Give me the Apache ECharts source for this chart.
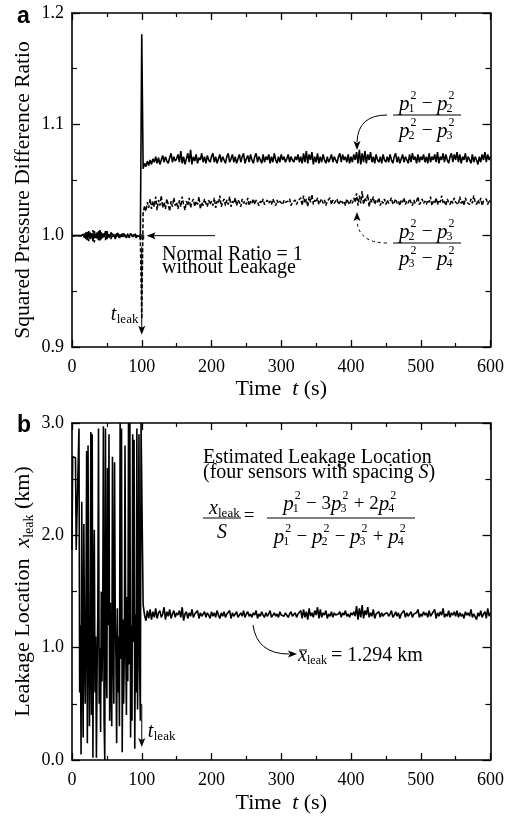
<!DOCTYPE html>
<html><head><meta charset="utf-8">
<script src="https://cdn.jsdelivr.net/npm/echarts@6/dist/echarts.min.js"></script>
<style>html,body{margin:0;padding:0;background:#fff}#c{width:507px;height:818px}</style>
</head><body><div id="c"></div>
<script>
// ---------------- data ----------------
const timeTicks = [0, 100, 200, 300, 400, 500, 600];
const ratioTicks = [0.9, 1.0, 1.1, 1.2];
const locationTicks = [0.0, 1.0, 2.0, 3.0];

// (p1^2-p2^2)/(p2^2-p3^2): t = 0..98 every 2 s, t = 100, t = 102..600 every 2 s
const ratio12Pre = [1.000,1.000,1.000,1.000,1.000,1.000,1.000,1.000,
 1.001,0.998,1.003,0.996,1.004,0.997,1.002,0.995,1.004,0.998,
 1.003,0.996,1.005,0.997,1.002,0.999,1.004,0.997,1.001,0.998,
 1.003,0.999,1.001,0.997,1.002,1.000,0.998,1.001,0.999,1.002,
 1.000,0.998,1.001,0.999,1.002,1.000,0.999,1.001,0.998,1.000,
 1.001,0.999];
const ratio12Leak = 1.181;
const ratio12Post = [
 1.060,1.065,1.062,1.067,1.063,1.068,1.064,1.069,1.066,1.071,1.065,1.070,1.064,1.068,1.072,1.066,1.071,1.067,1.065,1.070,1.074,1.066,1.071,1.067,1.069,
 1.073,1.066,1.076,1.065,1.071,1.064,1.069,1.074,1.066,1.077,1.064,1.071,1.067,1.073,1.065,1.070,1.068,1.074,1.066,1.071,1.065,1.072,1.068,1.066,1.071,
 1.074,1.066,1.071,1.065,1.069,1.073,1.066,1.071,1.068,1.065,1.071,1.074,1.066,1.069,1.073,1.066,1.071,1.065,1.069,1.073,1.066,1.071,1.074,1.065,1.069,
 1.072,1.066,1.073,1.068,1.065,1.071,1.074,1.066,1.071,1.068,1.065,1.073,1.066,1.071,1.068,1.073,1.065,1.071,1.066,1.074,1.068,1.065,1.071,1.066,1.073,
 1.068,1.071,1.066,1.069,1.073,1.066,1.071,1.068,1.066,1.071,1.068,1.073,1.066,1.071,1.065,1.074,1.066,1.076,1.065,1.073,1.068,1.075,1.064,1.071,1.066,
 1.074,1.065,1.071,1.066,1.073,1.068,1.065,1.071,1.066,1.069,1.073,1.066,1.071,1.068,1.065,1.071,1.074,1.066,1.073,1.068,1.071,1.066,1.073,1.065,1.071,
 1.066,1.073,1.068,1.075,1.065,1.077,1.064,1.074,1.066,1.076,1.065,1.073,1.068,1.075,1.066,1.071,1.065,1.073,1.068,1.066,1.071,1.065,1.073,1.068,1.066,
 1.071,1.066,1.073,1.068,1.065,1.071,1.074,1.066,1.071,1.065,1.069,1.073,1.066,1.071,1.068,1.065,1.073,1.066,1.074,1.068,1.071,1.065,1.073,1.066,1.071,
 1.068,1.073,1.066,1.071,1.065,1.074,1.066,1.071,1.068,1.073,1.066,1.075,1.065,1.071,1.068,1.074,1.066,1.073,1.068,1.065,1.071,1.074,1.066,1.073,1.068,
 1.075,1.066,1.073,1.065,1.071,1.068,1.074,1.066,1.071,1.068,1.065,1.073,1.066,1.071,1.068,1.064,1.071,1.066,1.073,1.068,1.075,1.066,1.073,1.068,1.071];

// (p2^2-p3^2)/(p3^2-p4^2)
const ratio23Pre = [1.000,1.000,1.000,1.000,1.000,1.000,1.000,1.000,
 0.999,1.002,0.997,1.004,0.995,1.003,0.998,1.005,0.994,1.002,
 0.997,1.004,0.995,1.003,0.998,1.002,0.996,1.005,0.999,1.001,
 0.997,1.002,0.999,1.001,0.998,1.003,1.000,0.998,1.002,0.999,
 1.001,0.999,1.002,0.998,1.000,1.001,0.999,1.002,1.000,0.999,
 1.000,0.998];
const ratio23Leak = 0.925;
const ratio23Post = [
 1.020,1.027,1.022,1.030,1.025,1.033,1.024,1.031,1.026,1.035,1.023,1.032,1.027,1.036,1.025,1.030,1.024,1.033,1.028,1.022,1.031,1.026,1.034,1.027,1.030,
 1.024,1.032,1.026,1.035,1.028,1.023,1.031,1.027,1.034,1.025,1.030,1.033,1.026,1.031,1.028,1.035,1.024,1.030,1.027,1.033,1.029,1.026,1.032,1.028,1.031,
 1.027,1.034,1.025,1.031,1.029,1.036,1.026,1.030,1.033,1.027,1.032,1.028,1.035,1.026,1.031,1.029,1.034,1.027,1.032,1.030,1.026,1.033,1.029,1.031,1.028,
 1.034,1.027,1.031,1.029,1.033,1.028,1.032,1.030,1.027,1.031,1.029,1.033,1.028,1.030,1.032,1.029,1.031,1.028,1.033,1.030,1.027,1.032,1.029,1.031,1.030,
 1.028,1.032,1.030,1.029,1.031,1.033,1.027,1.030,1.029,1.032,1.028,1.031,1.030,1.034,1.027,1.036,1.029,1.033,1.026,1.035,1.030,1.037,1.028,1.032,1.030,
 1.034,1.028,1.031,1.033,1.029,1.032,1.027,1.031,1.030,1.034,1.028,1.032,1.029,1.031,1.033,1.028,1.030,1.032,1.029,1.031,1.027,1.033,1.030,1.028,1.032,
 1.029,1.034,1.030,1.038,1.027,1.036,1.029,1.040,1.028,1.034,1.031,1.037,1.026,1.033,1.030,1.035,1.028,1.032,1.030,1.034,1.027,1.031,1.029,1.033,1.028,
 1.032,1.029,1.031,1.034,1.028,1.030,1.033,1.029,1.031,1.027,1.032,1.030,1.034,1.028,1.031,1.029,1.033,1.030,1.027,1.032,1.029,1.031,1.035,1.028,1.030,
 1.033,1.029,1.031,1.028,1.032,1.030,1.035,1.027,1.031,1.029,1.034,1.028,1.032,1.030,1.036,1.029,1.031,1.027,1.033,1.030,1.028,1.032,1.029,1.034,1.030,
 1.031,1.028,1.035,1.029,1.032,1.027,1.034,1.030,1.031,1.028,1.033,1.029,1.036,1.030,1.028,1.032,1.029,1.034,1.027,1.031,1.030,1.033,1.028,1.032,1.030];

// x_leak (km): t = 0..100 every 1 s, then t = 102..600 every 2 s
const xleakPre = [
 1.87,2.70,2.70,2.70,2.70,2.69,1.87,1.87,1.87,1.87,
 2.95,0.60,1.20,0.05,2.30,0.90,0.20,2.10,1.00,0.50,
 1.30,2.75,0.15,2.80,1.10,0.30,0.90,2.92,0.40,2.90,
 0.02,1.40,2.05,0.60,1.10,0.02,0.80,1.30,2.95,0.50,
 1.00,0.25,1.50,0.70,1.20,2.97,0.35,0.00,2.95,0.90,
 0.55,2.60,1.20,2.90,0.35,1.40,0.65,0.30,2.70,1.05,
 0.50,2.65,1.30,0.90,0.15,1.35,0.60,1.10,0.30,3.00,
 0.90,2.95,0.07,1.25,0.50,0.95,2.80,1.10,0.40,1.45,
 0.70,3.00,0.85,3.00,0.20,1.20,0.35,2.90,1.05,2.85,
 0.10,1.30,0.60,2.95,0.45,1.25,2.90,0.80,0.35,3.00,
 3.00];
const xleakPost = [
 1.38,1.29,1.24,1.33,1.26,1.34,1.25,1.32,1.27,1.35,1.26,1.31,1.33,1.27,1.30,1.36,1.25,1.32,1.28,1.34,1.26,1.30,1.33,1.27,1.31,
 1.29,1.33,1.27,1.36,1.24,1.30,1.32,1.26,1.31,1.28,1.34,1.27,1.30,1.29,1.33,1.26,1.31,1.28,1.30,1.32,1.27,1.31,1.29,1.26,1.32,
 1.28,1.31,1.27,1.33,1.29,1.26,1.31,1.28,1.32,1.27,1.30,1.29,1.33,1.26,1.31,1.28,1.30,1.32,1.27,1.29,1.31,1.28,1.33,1.27,1.30,
 1.32,1.28,1.30,1.27,1.31,1.29,1.33,1.26,1.30,1.28,1.32,1.29,1.27,1.31,1.28,1.30,1.33,1.27,1.29,1.31,1.28,1.30,1.27,1.32,1.29,
 1.30,1.28,1.31,1.29,1.27,1.30,1.32,1.28,1.29,1.31,1.27,1.30,1.29,1.33,1.26,1.34,1.27,1.32,1.25,1.35,1.28,1.31,1.27,1.33,1.29,
 1.36,1.26,1.34,1.27,1.31,1.29,1.33,1.26,1.30,1.28,1.32,1.27,1.31,1.29,1.28,1.30,1.32,1.27,1.31,1.29,1.33,1.28,1.30,1.27,1.31,
 1.29,1.32,1.28,1.37,1.25,1.35,1.27,1.38,1.26,1.33,1.29,1.36,1.27,1.31,1.28,1.34,1.26,1.30,1.29,1.32,1.27,1.31,1.28,1.30,1.29,
 1.31,1.28,1.30,1.33,1.27,1.29,1.32,1.28,1.31,1.26,1.30,1.29,1.33,1.27,1.31,1.28,1.30,1.32,1.27,1.30,1.29,1.31,1.34,1.27,1.30,
 1.28,1.32,1.29,1.31,1.27,1.33,1.28,1.30,1.29,1.34,1.26,1.31,1.28,1.32,1.29,1.35,1.27,1.30,1.28,1.33,1.27,1.31,1.29,1.32,1.28,
 1.33,1.27,1.31,1.28,1.30,1.26,1.32,1.29,1.31,1.28,1.34,1.27,1.30,1.29,1.25,1.31,1.28,1.33,1.27,1.30,1.32,1.26,1.35,1.28,1.31];

const leakTime = 100;

// ---------------- build series data ----------------
function buildRatio(pre, leak, post) {
  const d = [];
  pre.forEach((v, i) => d.push([i * 2, v]));
  d.push([leakTime, leak]);
  post.forEach((v, i) => d.push([leakTime + 2 + i * 2, v]));
  return d;
}
function buildLoc(pre, post) {
  const d = [];
  pre.forEach((v, i) => d.push([i, v]));
  post.forEach((v, i) => d.push([leakTime + 2 + i * 2, v]));
  return d;
}

const SERIF = '"Liberation Serif","Times New Roman",serif';
const chart = echarts.init(document.getElementById('c'), null, {renderer: 'canvas'});

function xAx(gi, primary, gap) {
  return {
    type: 'value', gridIndex: gi, min: timeTicks[0], max: timeTicks[timeTicks.length - 1],
    interval: timeTicks[1] - timeTicks[0], position: primary ? 'bottom' : 'top',
    axisLine: {show: true, onZero: false, lineStyle: {color: '#000', width: 1.6}},
    axisTick: {show: true, inside: true, length: 7, lineStyle: {color: '#000', width: 1.3}},
    minorTick: {show: true, splitNumber: 2, length: 4, lineStyle: {color: '#000', width: 1.2}},
    splitLine: {show: false}, minorSplitLine: {show: false},
    axisLabel: {show: primary, margin: 11, color: '#000', fontFamily: SERIF, fontSize: 18},
    name: primary ? '{n|Time  }{i|t}{n| (s)}' : '',
    nameLocation: 'middle', nameGap: gap, nameMoveOverlap: false,
    nameTextStyle: {rich: {
      n: {fontFamily: SERIF, fontSize: 22, color: '#000'},
      i: {fontFamily: SERIF, fontSize: 22, fontStyle: 'italic', color: '#000'}}}
  };
}
function yAx(gi, primary, ticks, name, gap, size, pad) {
  return {
    type: 'value', gridIndex: gi, min: ticks[0], max: ticks[ticks.length - 1],
    interval: +(ticks[1] - ticks[0]).toFixed(3), position: primary ? 'left' : 'right',
    axisLine: {show: true, onZero: false, lineStyle: {color: '#000', width: 1.6}},
    axisTick: {show: true, inside: true, length: 8, lineStyle: {color: '#000', width: 1.3}},
    minorTick: {show: true, splitNumber: 2, length: 5, lineStyle: {color: '#000', width: 1.2}},
    splitLine: {show: false}, minorSplitLine: {show: false},
    axisLabel: {show: primary, margin: 8, color: '#000', fontFamily: SERIF, fontSize: 18,
      formatter: v => v.toFixed(1)},
    name: primary ? name : '', nameLocation: 'middle', nameGap: gap, nameMoveOverlap: false,
    nameTextStyle: {padding: pad || 0, rich: {
      n: {fontFamily: SERIF, fontSize: size || 22, color: '#000', lineHeight: 26},
      i: {fontFamily: SERIF, fontSize: size || 22, fontStyle: 'italic', color: '#000', lineHeight: 26},
      s: {fontFamily: SERIF, fontSize: 14, color: '#000', lineHeight: 15, verticalAlign: 'bottom'}}}
  };
}

const option = {
  animation: false,
  backgroundColor: '#fff',
  grid: [
    {left: 72, top: 13, width: 419, height: 334},
    {left: 72, top: 423, width: 419, height: 337}
  ],
  xAxis: [xAx(0, true, 31), xAx(0, false, 0), xAx(1, true, 32), xAx(1, false, 0)],
  yAxis: [
    yAx(0, true, ratioTicks, '{n|Squared Pressure Difference Ratio}', 36, 21.5, [0, 20, 0, 0]),
    yAx(0, false, ratioTicks, '', 0),
    yAx(1, true, locationTicks, '{n|Leakage Location  }{i|x}{s|leak}{n| (km)}', 36, 22),
    yAx(1, false, locationTicks, '', 0)
  ],
  series: [
    {type: 'line', name: 'r12', xAxisIndex: 0, yAxisIndex: 0, data: buildRatio(ratio12Pre, ratio12Leak, ratio12Post),
     showSymbol: false, symbol: 'none', lineStyle: {color: '#000', width: 1.6}, z: 3},
    {type: 'line', name: 'r23', xAxisIndex: 0, yAxisIndex: 0, data: buildRatio(ratio23Pre, ratio23Leak, ratio23Post),
     showSymbol: false, symbol: 'none', lineStyle: {color: '#000', width: 1.5, type: [4, 2]}, z: 3},
    {type: 'scatter', xAxisIndex: 0, yAxisIndex: 0, data: [[leakTime, 0.999]], symbol: 'rect', symbolSize: 5,
     itemStyle: {color: '#000'}, z: 4},
    {type: 'line', name: 'xleak', xAxisIndex: 2, yAxisIndex: 2, data: buildLoc(xleakPre, xleakPost),
     showSymbol: false, symbol: 'none', lineStyle: {color: '#000', width: 1.6}, z: 3}
  ]
};
chart.setOption(option);

// ---------------- annotations ----------------
const mctx = document.createElement('canvas').getContext('2d');
function tw(s, size, italic) {
  mctx.font = (italic ? 'italic ' : '') + size + 'px "Liberation Serif"';
  return mctx.measureText(s).width;
}
function T(x, y, s, size, o) {
  o = o || {};
  return {type: 'text', x: x, y: y, silent: true, z: 50,
    style: {text: s, fontFamily: o.sans ? '"Liberation Sans",Arial,sans-serif' : SERIF, fontSize: size,
      fontStyle: o.italic ? 'italic' : 'normal', fontWeight: o.bold ? 'bold' : 'normal', fill: '#000',
      align: o.align || 'left', verticalAlign: 'middle', textAlign: o.align || 'left', textVerticalAlign: 'middle'}};
}
function L(x1, y1, x2, y2, w, dash) {
  return {type: 'line', silent: true, z: 50, shape: {x1, y1, x2, y2},
    style: {stroke: '#000', lineWidth: w || 1, lineDash: dash || null}};
}
function head(tx, ty, dir, len, half) {
  len = len || 9; half = half || 3.5;
  let pts;
  if (dir === 'down') pts = [[tx, ty], [tx - half, ty - len], [tx, ty - len + 2], [tx + half, ty - len]];
  else if (dir === 'up') pts = [[tx, ty], [tx - half, ty + len], [tx, ty + len - 2], [tx + half, ty + len]];
  else if (dir === 'left') pts = [[tx, ty], [tx + len, ty - half], [tx + len - 2, ty], [tx + len, ty + half]];
  else pts = [[tx, ty], [tx - len, ty - half], [tx - len + 2, ty], [tx - len, ty + half]];
  return {type: 'polygon', silent: true, z: 51, shape: {points: pts}, style: {fill: '#000'}};
}
function curve(x1, y1, cx, cy, x2, y2, dash) {
  return {type: 'bezierCurve', silent: true, z: 50, shape: {x1, y1, cpx1: cx, cpy1: cy, x2, y2},
    style: {stroke: '#000', lineWidth: 1, fill: null, lineDash: dash || null}};
}
const PS = 21, SS = 12, OS = 19;
function formula(tokens, cx, cy, els) {
  const items = tokens.map(t => {
    const m = /^p(\d)$/.exec(t);
    if (m) {
      const pw = tw('p', PS, true);
      return {k: 'p', sub: m[1], pw: pw, w: pw + tw('2', SS) + 1.5};
    }
    return {k: 't', s: t, w: tw(t, OS)};
  });
  const total = items.reduce((a, b) => a + b.w, 0);
  let x = cx - total / 2;
  items.forEach(it => {
    if (it.k === 'p') {
      els.push(T(x, cy, 'p', PS, {italic: true}));
      els.push(T(x + it.pw + 1, cy - 8, '2', SS));
      els.push(T(x + it.pw - 1, cy + 5, it.sub, SS));
    } else {
      els.push(T(x, cy, it.s, OS));
    }
    x += it.w;
  });
}

const g = [];
// panel letters
g.push(T(17, 16.5, 'a', 23, {sans: true, bold: true}));
g.push(T(17, 426, 'b', 23, {sans: true, bold: true}));

// t_leak arrow, top panel
const pTop1 = chart.convertToPixel({gridIndex: 0}, [leakTime, 0.99]);
const pTop2 = chart.convertToPixel({gridIndex: 0}, [leakTime, 0.911]);
g.push(L(pTop1[0], pTop1[1], pTop2[0], pTop2[1] - 6, 1));
g.push(head(pTop2[0], pTop2[1], 'down'));
g.push(T(pTop2[0] - 31, 315, 't', 20, {italic: true}));
g.push(T(pTop2[0] - 25, 320, 'leak', 13));

// "Normal Ratio" arrow
const nA = chart.convertToPixel({gridIndex: 0}, [205, 1.0]);
const nB = chart.convertToPixel({gridIndex: 0}, [107, 1.0]);
g.push(L(nA[0], nA[1], nB[0] + 6, nB[1], 1));
g.push(head(nB[0], nB[1], 'left'));
g.push(T(162, 255, 'Normal Ratio = 1', 20));
g.push(T(162, 268, 'without Leakage', 20));

// formula 1 (solid curve)
g.push(L(393, 115, 461, 115, 1));
formula(['p1', ' − ', 'p2'], 427, 104, g);
formula(['p2', ' − ', 'p3'], 427, 131, g);
g.push(curve(387, 115, 358, 115, 357, 142));
g.push(head(357, 150, 'down'));

// formula 2 (dashed curve)
g.push(L(393, 243, 461, 243, 1));
formula(['p2', ' − ', 'p3'], 427, 232, g);
formula(['p3', ' − ', 'p4'], 427, 259, g);
g.push(curve(387, 243, 358, 243, 357, 220, [3, 3]));
g.push(head(357, 212, 'up'));

// bottom panel texts
g.push(T(203, 458, 'Estimated Leakage Location', 20));
g.push({type: 'text', x: 203, y: 473, silent: true, z: 50,
  style: {text: '{n|(four sensors with spacing }{i|S}{n|)}', fill: '#000', verticalAlign: 'middle', textVerticalAlign: 'middle',
    rich: {n: {fontFamily: SERIF, fontSize: 20, fill: '#000'}, i: {fontFamily: SERIF, fontSize: 20, fontStyle: 'italic', fill: '#000'}}}});
// x_leak / S
g.push(T(209, 509, 'x', 20, {italic: true}));
g.push(T(218, 514, 'leak', 13));
g.push(L(203, 518, 241, 518, 1));
g.push(T(222, 533, 'S', 20, {italic: true, align: 'center'}));
g.push(T(249, 516, '=', 19, {align: 'center'}));
g.push(L(267, 518, 415, 518, 1));
formula(['p1', ' − 3', 'p3', ' + 2', 'p4'], 340, 504, g);
formula(['p1', ' − ', 'p2', ' − ', 'p3', ' + ', 'p4'], 340, 537, g);

// t_leak arrow, bottom panel
const pB1 = chart.convertToPixel({gridIndex: 1}, [leakTime, 0.5]);
const pB2 = chart.convertToPixel({gridIndex: 1}, [leakTime, 0.115]);
g.push(L(pB1[0], pB1[1], pB2[0], pB2[1] - 6, 1));
g.push(head(pB2[0], pB2[1], 'down'));
g.push(T(pB2[0] + 6, 732, 't', 20, {italic: true}));
g.push(T(pB2[0] + 12, 737, 'leak', 13));

// mean location label
g.push(curve(253, 625, 257, 654, 289, 654));
g.push(head(297, 654, 'right'));
g.push(T(298, 656, 'x', 20, {italic: true}));
g.push(L(299, 650, 307, 650, 1));
g.push(T(307, 661, 'leak', 12));
g.push(T(331, 656, '= 1.294 km', 20));

chart.setOption({graphic: g});
</script>
</body></html>
